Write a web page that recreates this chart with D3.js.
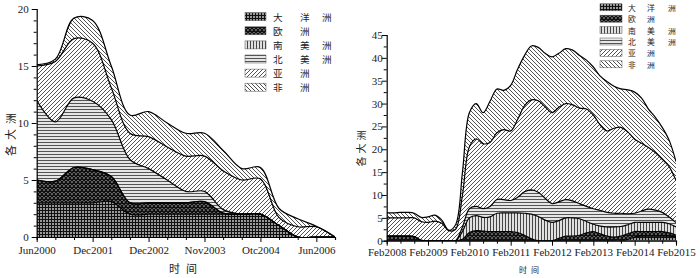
<!DOCTYPE html>
<html><head><meta charset="utf-8">
<script src="https://cdn.jsdelivr.net/npm/d3@7"></script>
<style>body{margin:0;background:#fff}svg{display:block}</style>
</head><body>
<svg id="c" width="700" height="278"></svg>
<script>
// ---------- shared ----------
const seriesKeys = ["oce","eu","sa","na","as","af"];
const legendChars = [["大","洋","洲"],["欧","洲"],["南","美","洲"],["北","美","洲"],["亚","洲"],["非","洲"]];
const yTitle = "各大洲";
const xTitle = "时间";

// ---------- left chart ----------
const leftTickLabels = ["Jun2000","","","Dec2001","","","Dec2002","","","Nov2003","","","Otc2004","","","Jun2006",""];
const leftOce = [3,3,3,3,3.1,2,2,2,2,2,2,2,2,1,0,0,0];
const leftEu  = [2,1.9,3.1,2.9,2.2,1,1,1,1,1.1,0.1,0,0,0,0,0,0];
const leftSa  = [0,0,0,0,0,0,0,0,0,0,0,0,0,0,0,0,0];
const leftNa  = [7,5.2,6.1,6,5,3.8,3,2,1,0.9,0.3,0,0,0,0,0,0];
const leftAs  = [3,5.3,5.2,5.1,2.8,2.3,2.8,2.9,3.1,3.1,3.4,3,3.1,0.7,0.9,0.9,0];
const leftAf  = [0.1,0.2,1.8,2,1.9,1.6,2.2,2.1,2,2,1.8,1,1,0.8,0.7,0.05,0];
const leftYTicks = [0,1,2,3,4,5,6,7,8,9,10,11,12,13,14,15,16,17,18,19,20];

// ---------- right chart (2-month steps) ----------
const rightTickLabels = ["Feb2008","","","","","","Feb2009","","","","","","Feb2010","","","","","","Feb2011","","","","","","Feb2012","","","","","","Feb2013","","","","","","Feb2014","","","","","","Feb2015"];
const rightOce = [0,0,0,0,0,0,0,0,0,0,0,0,0,0,0,0,0,0,0,0,0,0,0,0,0,0,0,0,0,0,0,0,0,0,0,0.3,0.8,1,1,1,1,1,0.8];
const rightEu  = [1,1,1,1,0.9,0.1,0,0,0,0,0,0.3,1.8,2.2,2.1,2,2,2,2,1.8,1.2,0.4,0,0,0,0.5,1,1,1.2,1.7,2,1.5,1,0.8,1,1.2,1.2,1,1,1,1,0.7,0.4];
const rightSa  = [0,0,0,0,0,0,0,0,0,0,0,1.7,3.2,3.3,3,3.2,4,4.1,4.1,4.3,4.8,5.4,5.3,4.5,4,3.9,4,4,3.6,2.5,1.6,1.7,2,2.2,2.1,2,2,2,2,2,2,2,1.8];
const rightNa  = [0,0,0,0,0,0,0,0,0,0,0,1,2,2,1.9,2.3,3,2.9,2.7,3.4,4.7,5.3,5.3,4.8,4.1,4.1,4,3.7,3.3,3.3,3.4,3.4,3.2,3,2.9,2.4,2,2.5,2.9,2.7,2.2,1.5,1];
const rightAs  = [4,4,4,4,4.1,4.1,4,4.3,3.8,2.2,2.5,7,13.5,14.8,14.2,14,14.6,15.3,15.2,17,18.8,19.7,20,20,19.9,20.7,21,21,20.9,21.3,20.5,18.7,17.8,18.6,18.8,17.9,16.2,14.8,13.5,12.6,11.6,11,9.2];
const rightAf  = [1.1,1.1,1.2,1.2,1,0.9,1.2,1.3,0.7,0.1,1,5,7.5,7.7,6.8,9,9.6,8.6,10,11,11,11.8,11.7,11.7,12.2,11.8,12,12,11.5,10.7,10.5,10.7,10.8,9.2,8.4,9.2,10.3,9.9,8.4,7.7,7,5.8,4.1];
const rightYTicks = [0,2.5,5,7.5,10,12.5,15,17.5,20,22.5,25,27.5,30,32.5,35,37.5,40,42.5,45];

const svg = d3.select("#c");
const defs = svg.append("defs");

function pat(id, size, bg, drawFn) {
  const p = defs.append("pattern").attr("id", id).attr("patternUnits","userSpaceOnUse")
    .attr("width", size).attr("height", size);
  p.append("rect").attr("width", size).attr("height", size).attr("fill", bg);
  drawFn(p, size);
}
pat("p0", 3, "#9a9a9a", (p,s)=>{
  p.append("path").attr("d",`M0,0.5H${s}M0.5,0V${s}`).attr("stroke","#111").attr("stroke-width",1);
});
pat("p1", 4, "#ffffff", (p,s)=>{
  p.append("path").attr("d",`M0,0L${s},${s}M${s},0L0,${s}`).attr("stroke","#111").attr("stroke-width",1.6);
});
pat("p2", 3, "#e0e0e0", (p,s)=>{
  p.append("path").attr("d",`M1.5,0V${s}`).attr("stroke","#333").attr("stroke-width",0.9);
});
pat("p3", 3, "#e6e6e6", (p,s)=>{
  p.append("path").attr("d",`M0,1.5H${s}`).attr("stroke","#444").attr("stroke-width",0.9);
});
pat("p4", 4, "#ffffff", (p,s)=>{
  p.append("path").attr("d",`M-1,1L1,-1M0,${s}L${s},0M${s-1},${s+1}L${s+1},${s-1}`).attr("stroke","#333").attr("stroke-width",0.85);
});
pat("p5", 4, "#ffffff", (p,s)=>{
  p.append("path").attr("d",`M-1,${s-1}L1,${s+1}M0,0L${s},${s}M${s-1},-1L${s+1},1`).attr("stroke","#333").attr("stroke-width",0.85);
});

const serif = "'Liberation Serif','DejaVu Serif',serif";
const cjk = "'Noto Sans CJK SC','Noto Sans CJK JP',sans-serif";

function drawChart(cfg) {
  const g = svg.append("g");
  const n = cfg.series[0].length;
  const rows = d3.range(n).map(i => {
    const r = {i};
    seriesKeys.forEach((k, j) => r[k] = cfg.series[j][i]);
    return r;
  });
  const x = d3.scaleLinear().domain([0, n - 1]).range(cfg.xRange);
  const y = d3.scaleLinear().domain(cfg.yDomain).range(cfg.yRange);
  const stacked = d3.stack().keys(seriesKeys)(rows);
  const curve = d3.curveCatmullRom.alpha(0.5);
  const area = d3.area().x(d => x(d.data.i)).y0(d => y(d[0])).y1(d => y(d[1])).curve(curve);
  const line = d3.line().x(d => x(d.data.i)).y(d => y(d[1])).curve(curve);

  const clipId = "clip" + cfg.id;
  defs.append("clipPath").attr("id", clipId).append("rect")
    .attr("x", cfg.xRange[0]).attr("y", cfg.yRange[1] - 20)
    .attr("width", cfg.xRange[1] - cfg.xRange[0]).attr("height", cfg.yRange[0] - cfg.yRange[1] + 20);
  const pg = g.append("g").attr("clip-path", `url(#${clipId})`);

  pg.selectAll("path.area").data(stacked).join("path")
    .attr("class","area").attr("d", area)
    .attr("fill", (d, j) => `url(#p${j})`).attr("stroke","none");
  pg.selectAll("path.edge").data(stacked).join("path")
    .attr("class","edge").attr("d", line)
    .attr("fill","none").attr("stroke","#000").attr("stroke-width",1.2);

  const xa = g.append("g").attr("transform", `translate(0,${cfg.yRange[0]})`)
    .call(d3.axisBottom(x).tickValues(d3.range(0, n, cfg.xTickStep))
      .tickFormat(i => cfg.xLabels[i]).tickSizeOuter(0).tickSize(3).tickPadding(cfg.xPad));
  xa.selectAll(".tick line").attr("y2", i => cfg.xLabels[i] ? 5 : 3).attr("stroke","#000");
  xa.select(".domain").attr("stroke","#000").attr("stroke-width",1.2);
  xa.selectAll("text").attr("font-family", serif).attr("font-size", 11).attr("fill","#222");

  const ya = g.append("g").attr("transform", `translate(${cfg.xRange[0]},0)`)
    .call(d3.axisLeft(y).tickValues(cfg.yTicks)
      .tickFormat(v => v % 5 === 0 ? v : "").tickSizeOuter(0).tickSize(3).tickPadding(cfg.yPad));
  ya.selectAll(".tick line").attr("x2", v => v % 5 === 0 ? -5 : -3).attr("stroke","#000");
  ya.select(".domain").attr("stroke","#000").attr("stroke-width",1.2);
  ya.selectAll("text").attr("font-family", serif).attr("font-size", 11).attr("fill","#222");

  g.append("text").attr("transform", `translate(${cfg.yTitlePos[0]},${cfg.yTitlePos[1]}) rotate(-90)`)
    .attr("text-anchor","middle").attr("dominant-baseline","central")
    .attr("font-family", cjk).attr("font-size", cfg.yTitleSize).attr("letter-spacing", cfg.yTitleGap)
    .attr("fill","#222").text(yTitle);
  g.append("text").attr("x", cfg.xTitlePos[0]).attr("y", cfg.xTitlePos[1])
    .attr("text-anchor","middle").attr("dominant-baseline","central")
    .attr("font-family", cjk).attr("font-size", cfg.xTitleSize).attr("letter-spacing", cfg.xTitleGap)
    .attr("fill","#222").text(xTitle);

  const L = cfg.legend;
  legendChars.forEach((chars, j) => {
    const cy = L.y0 + j * L.dy;
    g.append("rect").attr("x", L.x).attr("y", cy - L.h / 2).attr("width", L.w).attr("height", L.h)
      .attr("fill", `url(#p${j})`).attr("stroke","#555").attr("stroke-width",0.5);
    chars.forEach((ch, k) => {
      g.append("text").attr("x", L.cx[k]).attr("y", cy).attr("dominant-baseline","central")
        .attr("font-family", cjk).attr("font-size", L.fs).attr("fill","#222").text(ch);
    });
  });
}

drawChart({
  id: "L",
  series: [leftOce, leftEu, leftSa, leftNa, leftAs, leftAf],
  xRange: [36.7, 335], yDomain: [0, 20], yRange: [237, 9],
  xTickStep: 1, xLabels: leftTickLabels, xPad: 6,
  yTicks: leftYTicks, yPad: 5,
  yTitlePos: [10, 132], yTitleSize: 11, yTitleGap: 5,
  xTitlePos: [186, 268], xTitleSize: 11, xTitleGap: 6,
  legend: {x: 245, y0: 16.7, dy: 14.1, w: 21, h: 8, cx: [273, 300, 322], fs: 9.6}
});

drawChart({
  id: "R",
  series: [rightOce, rightEu, rightSa, rightNa, rightAs, rightAf],
  xRange: [386.7, 676], yDomain: [0, 45], yRange: [240.7, 35],
  xTickStep: 2, xLabels: rightTickLabels, xPad: 5,
  yTicks: rightYTicks, yPad: 1,
  yTitlePos: [360, 147], yTitleSize: 10, yTitleGap: 3,
  xTitlePos: [531, 269], xTitleSize: 8, xTitleGap: 4,
  legend: {x: 600, y0: 7.3, dy: 11.4, w: 22, h: 7, cx: [628, 647, 668], fs: 7.8}
});
</script>
</body></html>
